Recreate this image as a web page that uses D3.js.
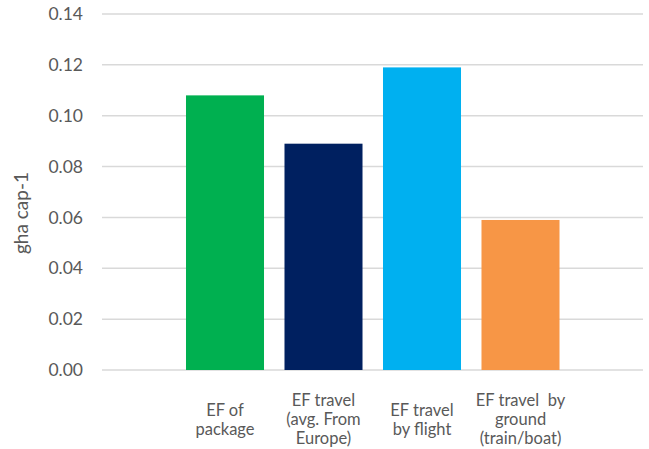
<!DOCTYPE html>
<html><head><meta charset="utf-8">
<script src="https://cdn.jsdelivr.net/npm/d3@7"></script>
<style>body{margin:0;background:#fff}svg{display:block}</style>
</head><body>
<svg id="c" width="649" height="449"></svg>
<script>
const categories = ["EF of package","EF travel (avg. From Europe)","EF travel by flight","EF travel by ground (train/boat)"];
const categoryLines = [["EF of","package"],["EF travel","(avg. From","Europe)"],["EF travel","by flight"],["EF travel  by","ground","(train/boat)"]];
const values = [0.108, 0.089, 0.119, 0.059];
const colors = ["#00B050","#002060","#00B0F0","#F79646"];
const yTicks = [0,0.02,0.04,0.06,0.08,0.10,0.12,0.14];
const yTitle = "gha cap-1";

const svg = d3.select("#c");
const font = "Lato, 'Open Sans', sans-serif";
const textColor = "#595959";
const y = d3.scaleLinear().domain([0,0.14]).range([370,14]);
const x = d3.scaleBand().domain(categories).range([175.75,569.75]).paddingInner(0.208).paddingOuter(0.104);

// gridlines
svg.append("g").selectAll("line").data(yTicks).join("line")
  .attr("x1",102).attr("x2",643)
  .attr("y1",d=>y(d)).attr("y2",d=>y(d))
  .attr("stroke","#D9D9D9").attr("stroke-width",1.5);

// y axis labels
const yAxis = d3.axisLeft(y).tickValues(yTicks).tickFormat(d3.format(".2f")).tickSize(0).tickPadding(0);
const ga = svg.append("g").attr("transform","translate(83,0)").call(yAxis);
ga.select(".domain").remove();
ga.selectAll("text").attr("font-family",font).attr("font-size",17.5).attr("fill",textColor);

// bars
svg.append("g").selectAll("rect").data(values).join("rect")
  .attr("x",(d,i)=>x(categories[i])).attr("width",x.bandwidth())
  .attr("y",d=>y(d)).attr("height",d=>y(0)-y(d))
  .attr("fill",(d,i)=>colors[i]);

// category labels
const lh = 19;
categoryLines.forEach((lines,i)=>{
  const cx = x(categories[i]) + x.bandwidth()/2;
  const mid = 419;
  const t = svg.append("text").attr("text-anchor","middle").attr("font-family",font)
    .attr("font-size",16.5).attr("fill",textColor);
  lines.forEach((ln,j)=>{
    t.append("tspan").attr("x",cx)
      .attr("y", mid + (j-(lines.length-1)/2)*lh + 6)
      .attr("xml:space","preserve").text(ln);
  });
});

// y title
svg.append("text").attr("transform","translate(28,213) rotate(-90)")
  .attr("text-anchor","middle").attr("font-family",font).attr("font-size",19)
  .attr("fill",textColor).text(yTitle);
</script>
</body></html>
